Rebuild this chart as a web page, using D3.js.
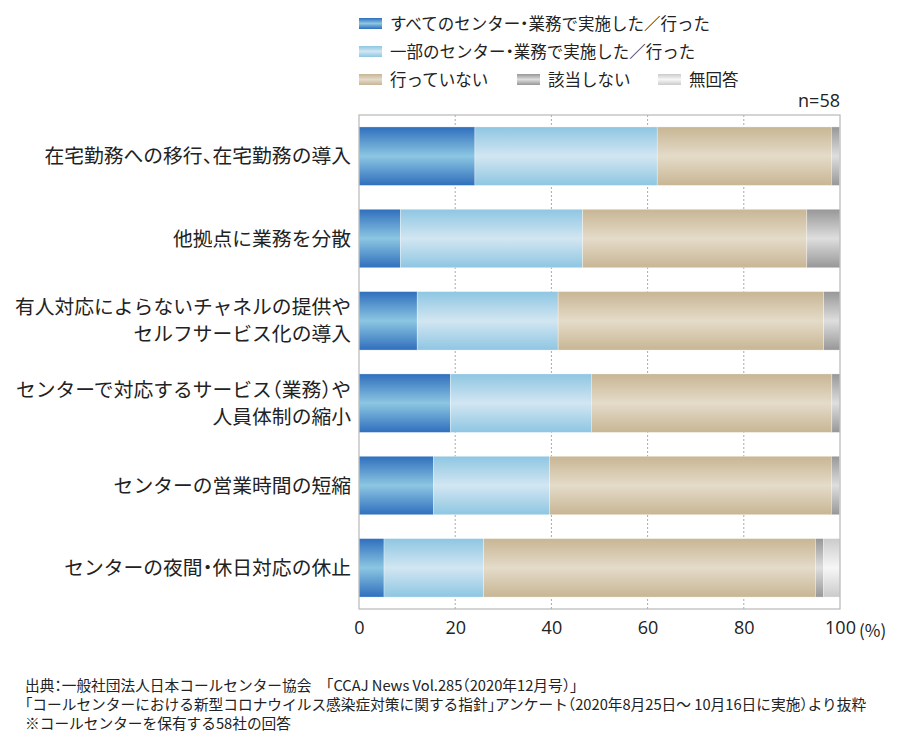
<!DOCTYPE html>
<html><head><meta charset="utf-8">
<script src="https://cdn.jsdelivr.net/npm/d3@7"></script>
<style>
body{margin:0;background:#fff;}
svg{font-family:"Noto Sans CJK JP","Noto Sans",sans-serif;}
.halt{font-feature-settings:"halt";}
</style></head>
<body><svg id="c" width="911" height="739"></svg>
<script>
const categories = [
  ["在宅勤務への移行、在宅勤務の導入"],
  ["他拠点に業務を分散"],
  ["有人対応によらないチャネルの提供や","セルフサービス化の導入"],
  ["センターで対応するサービス（業務）や","人員体制の縮小"],
  ["センターの営業時間の短縮"],
  ["センターの夜間・休日対応の休止"]
];
const seriesNames = ["すべてのセンター・業務で実施した／行った","一部のセンター・業務で実施した／行った","行っていない","該当しない","無回答"];
const allDone   = [24.1, 8.6, 12.1, 19.0, 15.5, 5.2];
const partDone  = [37.9, 37.9, 29.3, 29.3, 24.1, 20.7];
const notDone   = [36.2, 46.6, 55.2, 50.0, 58.6, 69.0];
const notApplic = [1.7, 6.9, 3.4, 1.7, 1.7, 1.7];
const noAnswer  = [0, 0, 0, 0, 0, 3.4];
const xTicks = [0, 20, 40, 60, 80, 100];
const nLabel = "n=58";
const notes = [
  "出典：一般社団法人日本コールセンター協会　「CCAJ News Vol.285（2020年12月号）」",
  "「コールセンターにおける新型コロナウイルス感染症対策に関する指針」アンケート（2020年8月25日～ 10月16日に実施）より抜粋",
  "※コールセンターを保有する58社の回答"
];

(function(){
const svg = d3.select("#c");
const defs = svg.append("defs");
const grads = [
  ["#2f6fbd","#8cc6e2"],
  ["#8ec6e2","#d2e6f2"],
  ["#c8b694","#e4dbc9"],
  ["#979797","#dedede"],
  ["#cbcbcb","#f6f6f6"]
];
grads.forEach((g,i)=>{
  const lg = defs.append("linearGradient").attr("id","g"+i).attr("x1",0).attr("x2",0).attr("y1",0).attr("y2",1);
  lg.append("stop").attr("offset","0%").attr("stop-color",g[0]);
  lg.append("stop").attr("offset","50%").attr("stop-color",g[1]);
  lg.append("stop").attr("offset","100%").attr("stop-color",g[0]);
});

const pL = 359, pR = 840, pT = 115, pB = 609;
const x = d3.scaleLinear().domain([0,100]).range([pL,pR]);
const y = d3.scaleBand().domain(d3.range(categories.length)).range([pT,pB]).paddingInner(0.29).paddingOuter(0.145);

// grid
svg.append("g").selectAll("line").data(xTicks.slice(1,-1)).join("line")
  .attr("x1",d=>x(d)).attr("x2",d=>x(d)).attr("y1",pT).attr("y2",pB)
  .attr("stroke","#aaa").attr("stroke-width",1).attr("stroke-dasharray","2,2");

// bars
const series = [allDone, partDone, notDone, notApplic, noAnswer];
const stackData = categories.map((c,i)=>{
  let acc = 0;
  return series.map((s,k)=>{ const v={k, i, x0:acc, x1:acc+s[i]}; acc+=s[i]; return v; });
});
svg.append("g").selectAll("g").data(stackData).join("g")
  .selectAll("rect").data(d=>d.filter(e=>e.x1>e.x0)).join("rect")
  .attr("x",d=>x(d.x0)).attr("width",d=>x(Math.min(d.x1,100))-x(d.x0))
  .attr("y",d=>y(d.i)).attr("height",y.bandwidth())
  .attr("fill",d=>`url(#g${d.k})`)
  .attr("stroke","rgba(255,255,255,0.5)").attr("stroke-width",0.6);

// frame
svg.append("rect").attr("x",pL).attr("y",pT).attr("width",pR-pL).attr("height",pB-pT)
  .attr("fill","none").attr("stroke","#b8b8b8").attr("stroke-width",1.2);

// category labels
const lab = svg.append("g").attr("class","halt").selectAll("text").data(categories).join("text")
  .attr("text-anchor","end").attr("font-size",19.8).attr("fill","#222")
  .attr("x",351)
  .attr("y",(d,i)=>y(i)+y.bandwidth()/2 - (d.length-1)*13.5 + 7);
lab.selectAll("tspan").data(d=>d).join("tspan").attr("x",351).attr("dy",(d,j)=>j? 27:0).text(d=>d);

// x axis
const ax = d3.axisBottom(x).tickValues(xTicks).tickSize(0).tickPadding(12);
const axg = svg.append("g").attr("transform",`translate(0,${pB})`).call(ax);
axg.select(".domain").remove();
axg.selectAll("text").attr("font-size",18).attr("fill","#222").attr("font-family","'Open Sans','Noto Sans',sans-serif");
svg.append("text").attr("x",x(100)+19).attr("y",637).attr("font-size",17).attr("fill","#222").text("(%)");

// legend
const legPos = [[359,24],[359,52],[359,80],[517,80],[658,80]];
const lg = svg.append("g").attr("class","halt").selectAll("g").data(seriesNames).join("g")
  .attr("transform",(d,i)=>`translate(${legPos[i][0]},${legPos[i][1]})`);
lg.append("rect").attr("x",0).attr("y",-6).attr("width",23).attr("height",11).attr("fill",(d,i)=>`url(#g${i})`);
lg.append("text").attr("x",31).attr("y",6).attr("font-size",16.5).attr("fill","#222").text(d=>d);

svg.append("text").attr("x",840).attr("y",107).attr("text-anchor","end").attr("font-size",18).attr("fill","#222")
  .attr("font-family","'Open Sans','Noto Sans',sans-serif").text(nLabel);

// notes
svg.append("g").attr("class","halt").selectAll("text").data(notes).join("text")
  .attr("x",25).attr("y",(d,i)=>691+i*19).attr("font-size",14.7).attr("fill","#222").text(d=>d);
})();
</script></body></html>
